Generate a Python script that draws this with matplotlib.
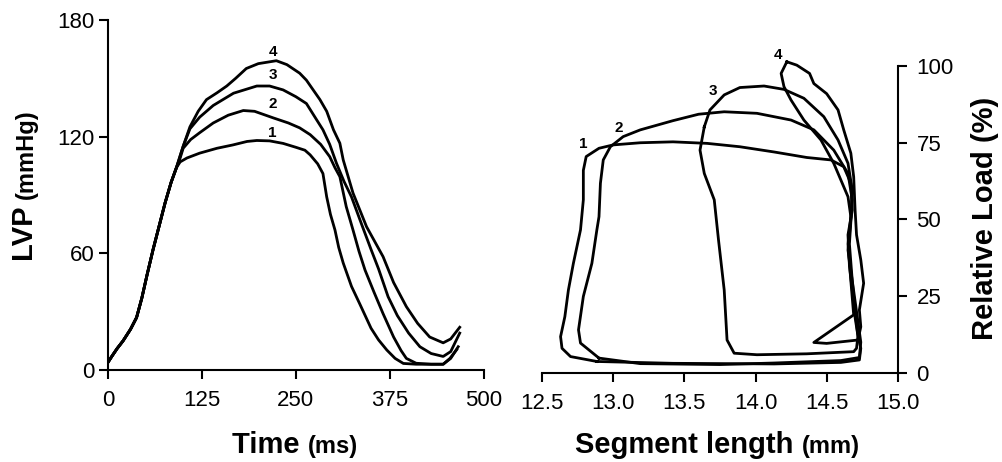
import matplotlib
matplotlib.use("Agg")
import matplotlib.pyplot as plt

plt.rcParams["font.family"] = ["Liberation Sans", "DejaVu Sans"]

# left panel: LVP waveforms (time ms, pressure mmHg)
t1 = [0, 5, 12, 20, 30, 38, 45, 52, 60, 68, 76, 84, 91, 96, 105, 122, 145, 166, 185, 198, 215, 233,
      250, 262, 269, 279, 286, 291, 296, 302, 307, 313, 324, 335, 350, 360, 371, 382, 393, 410, 430,
      446, 455, 464]
p1 = [4, 7, 11, 15, 21, 27, 37, 49, 62, 74, 86, 96.5, 104, 107, 109, 111.5, 114, 115.7, 117.5, 118,
      117.8, 116.5, 114.5, 113, 110.6, 106, 101, 89, 80, 72, 63, 55, 43, 34, 21.5, 15.5, 10.3, 6, 3.4,
      3, 3, 3, 6, 10.5]

t2 = [0, 5, 12, 20, 30, 38, 45, 52, 60, 68, 76, 84, 91, 96, 100, 110, 122, 140, 160, 180, 195, 220,
      240, 255, 269, 283, 295, 302, 308.5, 317, 326, 334, 342, 354, 366, 380, 390, 397, 410, 430, 446,
      456, 466]
p2 = [4, 7, 11, 15, 21, 27, 37, 49, 62, 74, 86, 96.5, 104, 109, 114, 118.5, 122, 127, 131, 133.4, 133,
      129.6, 127, 124.5, 121, 116, 109.7, 104, 99.4, 84, 72, 61, 51.4, 40, 29, 17, 10, 6, 3.5, 3, 3, 6,
      12]

t3 = [0, 5, 12, 20, 30, 38, 45, 52, 60, 68, 76, 84, 91, 100, 109, 122, 140, 167, 198, 215, 233, 250,
      264, 277, 286, 295, 304, 314, 324, 337, 350, 360, 372.7, 385, 400, 415, 430, 446, 456, 468]
p3 = [4, 7, 11, 15, 21, 27, 37, 49, 62, 74, 86, 96.5, 104, 115, 124, 130, 136, 142.3, 146, 146, 144,
      140.5, 137, 129, 123.5, 116, 106.3, 97, 89, 75.4, 62, 52, 37.7, 28, 19, 12, 8.5, 7, 9.5, 19]

t4 = [0, 5, 12, 20, 30, 38, 45, 52, 60, 68, 76, 84, 91, 100, 109, 120, 131, 145, 158, 170, 184, 200,
      224, 238, 255, 264, 282, 291, 300, 308.5, 313, 326, 344, 366, 380, 397, 412, 428, 446, 456, 468]
p4 = [4, 7, 11, 15, 21, 27, 37, 49, 62, 74, 86, 96.5, 104, 115, 125, 133, 139, 142.5, 146, 150, 155,
      157.5, 159, 157, 152.6, 149, 139, 133, 123.5, 116.6, 108, 91, 73.7, 58.3, 45, 32.6, 24, 17, 14,
      16, 22]

# right panel: load vs segment length loops (mm, %)
L1 = [12.885, 13.42, 14.13, 14.6, 14.73, 14.74, 14.72, 14.7, 14.68, 14.66, 14.65, 14.68, 14.67, 14.62,
      14.53, 14.36, 14.13, 13.89, 13.66, 13.42, 13.19, 13.0, 12.9, 12.81, 12.79, 12.79, 12.77, 12.72,
      12.685, 12.66, 12.63, 12.64, 12.7, 12.885]
F1 = [3.7, 3.1, 2.9, 3.4, 4.2, 8, 12, 18, 27, 35, 45, 53, 61.8, 67.2, 69.4, 70.2, 72, 73.7, 74.8,
      75.3, 75, 74.3, 73.2, 70.5, 66, 56.4, 46.6, 35.7, 27, 18.3, 11.8, 8, 5.3, 3.7]

L2 = [12.9, 13.19, 13.75, 14.13, 14.6, 14.73, 14.74, 14.71, 14.68, 14.66, 14.68, 14.65, 14.55, 14.41,
      14.25, 14.01, 13.78, 13.6, 13.42, 13.19, 13.07, 12.98, 12.93, 12.91, 12.9, 12.885, 12.85, 12.79,
      12.756, 12.77, 12.9]
F2 = [4.8, 3, 2.7, 3.2, 4, 5, 10, 20, 30, 42, 56.4, 65, 72.6, 79.2, 82.4, 84.6, 85.1, 84.3, 82.2,
      79.2, 77, 73.7, 69.4, 61.8, 50.9, 46.6, 35.7, 24.9, 14, 9.7, 4.8]

L3 = [13.64, 13.68, 13.78, 13.89, 14.06, 14.2, 14.34, 14.48, 14.58, 14.65, 14.68, 14.67, 14.65, 14.68,
      14.7, 14.72, 14.71, 14.69, 14.36, 14.01, 13.85, 13.8, 13.78, 13.74, 13.71, 13.64, 13.61, 13.64]
F3 = [80.2, 85.7, 90.6, 93, 93.5, 92.4, 89.5, 83.5, 75.9, 68.3, 59.6, 50, 40, 30, 20, 12, 8, 6.9,
      6.2, 5.9, 6.4, 10.7, 27, 43.3, 56.4, 65, 72.6, 80.2]

L4 = [14.22, 14.18, 14.2, 14.25, 14.34, 14.46, 14.55, 14.65, 14.67, 14.65, 14.67, 14.69, 14.41, 14.5,
      14.72, 14.74, 14.73, 14.76, 14.74, 14.71, 14.7, 14.69, 14.67, 14.62, 14.58, 14.5, 14.41, 14.38,
      14.29, 14.22]
F4 = [101.4, 97.6, 93.3, 88.9, 82.4, 75.9, 68.3, 57.4, 50.9, 42, 30, 18.9, 9.9, 9.6, 10.7, 15, 20.5,
      29.2, 36.8, 45, 53, 63.9, 71.6, 79.2, 85.7, 91, 94.3, 97.6, 100.3, 101.4]

curve_labels = ["1", "2", "3", "4"]
left_label_pos = [(219, 122), (219, 137), (219, 151.7), (219, 163.5)]
right_label_pos = [(12.79, 74.5), (13.04, 79.7), (13.7, 92), (14.16, 103.6)]

time_ticks = [0, 125, 250, 375, 500]
lvp_ticks = [0, 60, 120, 180]
len_ticks = [12.5, 13.0, 13.5, 14.0, 14.5, 15.0]
load_ticks = [0, 25, 50, 75, 100]


def style_axis(ax):
    ax.tick_params(direction="out", length=6.5, width=1.5, labelsize=16)
    for s in ax.spines.values():
        s.set_linewidth(1.5)


fig = plt.figure(figsize=(10.02, 4.62), dpi=100)
ax1 = fig.add_axes([0.1078, 0.199, 0.375, 0.758])
ax2 = fig.add_axes([0.541, 0.193, 0.355, 0.664])

for t, p in [(t1, p1), (t2, p2), (t3, p3), (t4, p4)]:
    ax1.plot(t, p, color="black", lw=2.0, solid_joinstyle="round")
for lab, (x, y) in zip(curve_labels, left_label_pos):
    ax1.text(x, y, lab, ha="center", va="center", fontsize=11, fontweight="bold")
ax1.set_xlim(0, 500)
ax1.set_ylim(0, 180)
ax1.set_xticks(time_ticks)
ax1.set_yticks(lvp_ticks)
ax1.spines["top"].set_visible(False)
ax1.spines["right"].set_visible(False)
style_axis(ax1)
ax1.tick_params(axis="x", pad=8)
ax1.tick_params(axis="y", pad=3)

for L, F in [(L1, F1), (L2, F2), (L3, F3), (L4, F4)]:
    ax2.plot(L, F, color="black", lw=2.0, solid_joinstyle="round", clip_on=False)
for lab, (x, y) in zip(curve_labels, right_label_pos):
    ax2.text(x, y, lab, ha="center", va="center", fontsize=11, fontweight="bold")
ax2.set_xlim(12.5, 15.0)
ax2.set_ylim(0, 100)
ax2.set_xticks(len_ticks)
ax2.set_xticklabels([f"{v:.1f}" for v in len_ticks])
ax2.set_yticks(load_ticks)
ax2.yaxis.tick_right()
ax2.spines["top"].set_visible(False)
ax2.spines["left"].set_visible(False)
style_axis(ax2)
ax2.tick_params(axis="x", pad=8)
ax2.tick_params(axis="y", pad=7)

# axis titles: bold name followed by a smaller bold unit
big, small = 21, 17
ax1.text(0.532, -0.237, "Time ", transform=ax1.transAxes, ha="right", va="baseline",
         fontsize=big, fontweight="bold")
ax1.text(0.532, -0.237, "(ms)", transform=ax1.transAxes, ha="left", va="baseline",
         fontsize=small, fontweight="bold")
ax2.text(0.73, -0.26, "Segment length ", transform=ax2.transAxes, ha="right", va="baseline",
         fontsize=big, fontweight="bold")
ax2.text(0.73, -0.26, "(mm)", transform=ax2.transAxes, ha="left", va="baseline",
         fontsize=small, fontweight="bold")
ax1.text(-0.2, 0.489, "LVP ", transform=ax1.transAxes, ha="right", va="baseline",
         rotation=90, rotation_mode="anchor", fontsize=big, fontweight="bold")
ax1.text(-0.2, 0.489, "(mmHg)", transform=ax1.transAxes, ha="left", va="baseline",
         rotation=90, rotation_mode="anchor", fontsize=small, fontweight="bold")
ax2.text(1.268, 0.505, "Relative Load (%)", transform=ax2.transAxes, ha="center", va="baseline",
         rotation=90, rotation_mode="anchor", fontsize=big, fontweight="bold")

fig.savefig("out.png", dpi=100)
